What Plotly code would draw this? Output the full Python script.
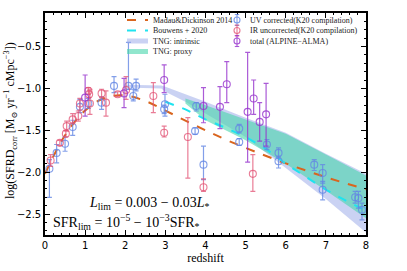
import plotly.graph_objects as go

# ---------------- data ----------------
md_z = [0, 0.5, 1, 1.5, 2, 2.5, 3, 3.5, 4, 4.5, 5, 6, 7, 8]
md_v = [-2.02, -1.56, -1.265, -1.11, -1.085, -1.15, -1.265, -1.385, -1.50, -1.61, -1.71, -1.895, -2.06, -2.205]

bw_z = [3, 3.5, 4, 4.5, 5, 5.5, 6, 6.5, 7, 7.5, 8]
bw_v = [-1.16, -1.25, -1.37, -1.47, -1.58, -1.72, -1.90, -2.06, -2.21, -2.34, -2.46]

tngi_z = [2, 2.5, 2.9, 3, 3.5, 4, 5, 6, 7, 8]
tngi_hi = [-0.955, -0.96, -0.965, -0.98, -1.07, -1.16, -1.35, -1.53, -1.78, -2.02]
tngi_lo = [-0.99, -0.995, -1.0, -1.04, -1.16, -1.30, -1.58, -1.95, -2.32, -2.72]

tngp_z = [3.5, 4, 5, 6, 7, 8]
tngp_hi = [-1.12, -1.20, -1.37, -1.54, -1.79, -2.04]
tngp_lo = [-1.18, -1.38, -1.62, -1.90, -2.22, -2.55]

uv_z = [0.11, 0.29, 0.50, 0.69, 0.87, 1.08, 1.41, 1.72, 2.08, 2.20, 2.27, 2.97, 2.99, 3.74, 3.77, 3.95,
        4.84, 4.84, 5.53, 5.82, 5.82, 6.71, 6.92, 6.92, 7.73, 7.81, 7.90]
uv_v = [-1.96, -1.77, -1.66, -1.46, -1.22, -1.18, -1.17, -0.97, -0.97, -1.09, -0.97, -1.25, -1.19, -1.51, -1.21, -1.91,
        -1.48, -1.64, -1.67, -1.77, -1.87, -1.91, -2.01, -2.21, -2.30, -2.31, -2.45]
uv_up = [0.11, 0.10, 0.08, 0.08, 0.09, 0.06, 0.07, 0.11, 0.52, 0.08, 0.08, 0.05, 0.12, 0.04, 0.04, 0.22,
         0.05, 0.04, 0.06, 0.06, 0.06, 0.06, 0.10, 0.10, 0.07, 0.08, 0.08]
uv_dn = [0.34, 0.12, 0.09, 0.10, 0.07, 0.06, 0.08, 0.08, 0.04, 0.06, 0.06, 0.05, 0.14, 0.04, 0.06, 0.18,
         0.05, 0.04, 0.06, 0.06, 0.08, 0.07, 0.12, 0.12, 0.07, 0.12, 0.12]

ir_z = [0.14, 0.37, 0.52, 0.54, 0.69, 0.83, 0.87, 1.08, 1.10, 1.12, 1.41, 1.52, 1.81, 2.02, 2.70, 2.97, 3.56, 3.95, 5.18]
ir_v = [-1.86, -1.65, -1.54, -1.45, -1.37, -1.33, -1.18, -1.03, -1.07, -1.18, -1.06, -1.17, -1.07, -1.02, -1.09, -1.53, -1.58, -2.18, -2.02]
ir_up = [0.07, 0.03, 0.04, 0.06, 0.07, 0.06, 0.06, 0.04, 0.04, 0.17, 0.05, 0.14, 0.03, 0.16, 0.16, 0.08, 0.23, 0.10, 0.23]
ir_dn = [0.07, 0.03, 0.04, 0.06, 0.05, 0.06, 0.08, 0.04, 0.04, 0.13, 0.05, 0.16, 0.03, 0.11, 0.20, 0.05, 0.49, 0.05, 0.21]

tot_z = [1.00, 1.97, 2.97, 3.95, 4.36, 4.53, 5.05, 5.20, 5.35, 5.51]
tot_v = [-1.11, -1.06, -0.90, -1.21, -1.22, -0.95, -1.28, -1.12, -1.40, -1.31]
tot_up = [0.27, 0.18, 0.18, 0.22, 0.24, 0.27, 0.71, 0.22, 0.23, 0.37]
tot_dn = [0.22, 0.17, 0.15, 0.20, 0.26, 0.22, 0.60, 0.19, 0.23, 0.38]

x_ticks = [0, 1, 2, 3, 4, 5, 6, 7, 8]
y_ticks = [-2.5, -2.0, -1.5, -1.0, -0.5]
y_ticktext = ["−2.5", "−2.0", "−1.5", "−1.0", "−0.5"]

legend_left = ["Madau&amp;Dickinson 2014", "Bouwens + 2020", "TNG: intrinsic", "TNG: proxy"]
legend_right = ["UV corrected(K20 compilation)", "IR uncorrected(K20 compilation)", "total (ALPINE−ALMA)"]

# ---------------- styles ----------------
SERIF = "Liberation Serif, DejaVu Serif, serif"
C_MD = "#D9651E"
C_BW = "#1fe3ef"
C_TNGI = "rgba(150,165,232,0.5)"
C_TNGP = "rgba(72,214,172,0.6)"
C_UV = "rgba(100,135,228,0.8)"
C_IR = "rgba(226,80,115,0.75)"
C_TOT = "rgba(150,50,205,0.8)"

W, H = 407, 271
ML, MR, MT, MB = 45, 41, 13, 36
PW, PH = W - ML - MR, H - MT - MB

def px(xw):   # pixel x -> paper
    return (xw - ML) / PW

def py(yw):   # pixel y -> paper
    return 1 - (yw - MT) / PH

fig = go.Figure()

# bands
fig.add_trace(go.Scatter(x=tngi_z, y=tngi_lo, mode="lines", line=dict(width=0, color="rgba(0,0,0,0)"),
                         showlegend=False, hoverinfo="skip"))
fig.add_trace(go.Scatter(x=tngi_z, y=tngi_hi, mode="lines", line=dict(width=0, color=C_TNGI),
                         fill="tonexty", fillcolor=C_TNGI, name="TNG: intrinsic", showlegend=False))
fig.add_trace(go.Scatter(x=tngp_z, y=tngp_lo, mode="lines", line=dict(width=0, color="rgba(0,0,0,0)"),
                         showlegend=False, hoverinfo="skip"))
fig.add_trace(go.Scatter(x=tngp_z, y=tngp_hi, mode="lines", line=dict(width=0, color=C_TNGP),
                         fill="tonexty", fillcolor=C_TNGP, name="TNG: proxy", showlegend=False))

fig.add_trace(go.Scatter(x=md_z, y=md_v, mode="lines", line=dict(color=C_MD, width=2, dash="dash", shape="spline"),
                         name="Madau&amp;Dickinson 2014", showlegend=False))
fig.add_trace(go.Scatter(x=bw_z, y=bw_v, mode="lines", line=dict(color=C_BW, width=2, dash="dash"),
                         name="Bouwens + 2020", showlegend=False))

def pts(x, y, up, dn, col, name):
    return go.Scatter(x=x, y=y, mode="markers", name=name, showlegend=False,
                      marker=dict(symbol="circle-open", size=7, color=col, line=dict(width=1.1, color=col)),
                      error_y=dict(type="data", symmetric=False, array=up, arrayminus=dn,
                                   color=col, thickness=1.2, width=2.5))

fig.add_trace(pts(uv_z, uv_v, uv_up, uv_dn, C_UV, legend_right[0]))
fig.add_trace(pts(ir_z, ir_v, ir_up, ir_dn, C_IR, legend_right[1]))
fig.add_trace(pts(tot_z, tot_v, tot_up, tot_dn, C_TOT, legend_right[2]))

# ---------------- legend (drawn as annotations + shapes) ----------------
rows = [20, 30.5, 41, 51.5]
LH0, LH1, LTX = 127, 148, 151       # left column handle span / text start (pixels)
RM, RTX = 237, 248                  # right column marker centre / text start
shapes, annots = [], []
left_styles = [("line", C_MD, "dash"), ("line", C_BW, "dash"), ("band", C_TNGI, None), ("band", C_TNGP, None)]
for r, (label, (kind, col, dash)) in enumerate(zip(legend_left, left_styles)):
    y = py(rows[r])
    if kind == "line":
        shapes.append(dict(type="line", xref="paper", yref="paper", x0=px(LH0), x1=px(LH1), y0=y, y1=y,
                           line=dict(color=col, width=2, dash=dash)))
    else:
        shapes.append(dict(type="rect", xref="paper", yref="paper", x0=px(LH0), x1=px(LH1),
                           y0=py(rows[r] + 2.5), y1=py(rows[r] - 2.5), line=dict(width=0), fillcolor=col))
    annots.append(dict(text=label, xref="paper", yref="paper", x=px(LTX), y=y, xanchor="left",
                       yanchor="middle", showarrow=False, font=dict(family=SERIF, size=8, color="#222")))
for r, (label, col) in enumerate(zip(legend_right, [C_UV, C_IR, C_TOT])):
    y = py(rows[r])
    xa = px(RM)
    common = dict(xref="paper", yref="paper", xsizemode="pixel", ysizemode="pixel", xanchor=xa, yanchor=y)
    shapes.append(dict(type="circle", x0=-3, x1=3, y0=-3, y1=3, line=dict(color=col, width=1.1), **common))
    shapes.append(dict(type="line", x0=0, x1=0, y0=-5.5, y1=5.5, line=dict(color=col, width=1.1), **common))
    shapes.append(dict(type="line", x0=-2.2, x1=2.2, y0=5.5, y1=5.5, line=dict(color=col, width=1.1), **common))
    shapes.append(dict(type="line", x0=-2.2, x1=2.2, y0=-5.5, y1=-5.5, line=dict(color=col, width=1.1), **common))
    annots.append(dict(text=label, xref="paper", yref="paper", x=px(RTX), y=y, xanchor="left",
                       yanchor="middle", showarrow=False, font=dict(family=SERIF, size=8, color="#222")))

annots += [
    dict(text="<i>L</i><sub>lim</sub> = 0.003 − 0.03<i>L</i><sub>*</sub>", xref="paper", yref="paper",
         x=px(87), y=py(203), xanchor="left", yanchor="middle", showarrow=False,
         font=dict(family=SERIF, size=14, color="black")),
    dict(text="SFR<sub>lim</sub> = 10<sup>−5</sup> − 10<sup>−3</sup>SFR<sub>*</sub>", xref="paper", yref="paper",
         x=px(51), y=py(222), xanchor="left", yanchor="middle", showarrow=False,
         font=dict(family=SERIF, size=14, color="black")),
    # y-axis title
    dict(text="log(SFRD<sub>corr</sub> [M<sub>⊙</sub> yr<sup>−1</sup> cMpc<sup>−3</sup>])", xref="paper",
         yref="paper", x=px(10), y=py(121), xanchor="center", yanchor="middle", textangle=-90,
         showarrow=False, font=dict(family=SERIF, size=12, color="black")),
]

axis_common = dict(showline=True, linecolor="black", linewidth=1.5, mirror="allticks",
                   ticks="inside", ticklen=5, tickwidth=1.2, tickcolor="black",
                   showgrid=False, zeroline=False, automargin=False,
                   tickfont=dict(family="DejaVu Sans", size=10, color="black"))

fig.update_xaxes(range=[0, 8], tickvals=x_ticks, ticktext=[str(t) for t in x_ticks],
                 minor=dict(dtick=0.2, ticks="inside", ticklen=2.5, tickcolor="black", tickwidth=1),
                 title=dict(text="redshift", font=dict(family=SERIF, size=12, color="black"), standoff=2),
                 **axis_common)
fig.update_yaxes(range=[-2.75, -0.1], tickvals=y_ticks, ticktext=y_ticktext,
                 minor=dict(dtick=0.1, ticks="inside", ticklen=2.5, tickcolor="black", tickwidth=1),
                 **axis_common)

fig.update_layout(
    width=W, height=H,
    margin=dict(l=ML, r=MR, t=MT, b=MB),
    plot_bgcolor="white", paper_bgcolor="white",
    showlegend=False,
    shapes=shapes,
    annotations=annots,
)

# remove the browser's default 8 px page margin so the figure fills the window exactly
fig.write_html("out.html", config={"displayModeBar": False},
               post_script="document.body.style.margin = '0px';")
